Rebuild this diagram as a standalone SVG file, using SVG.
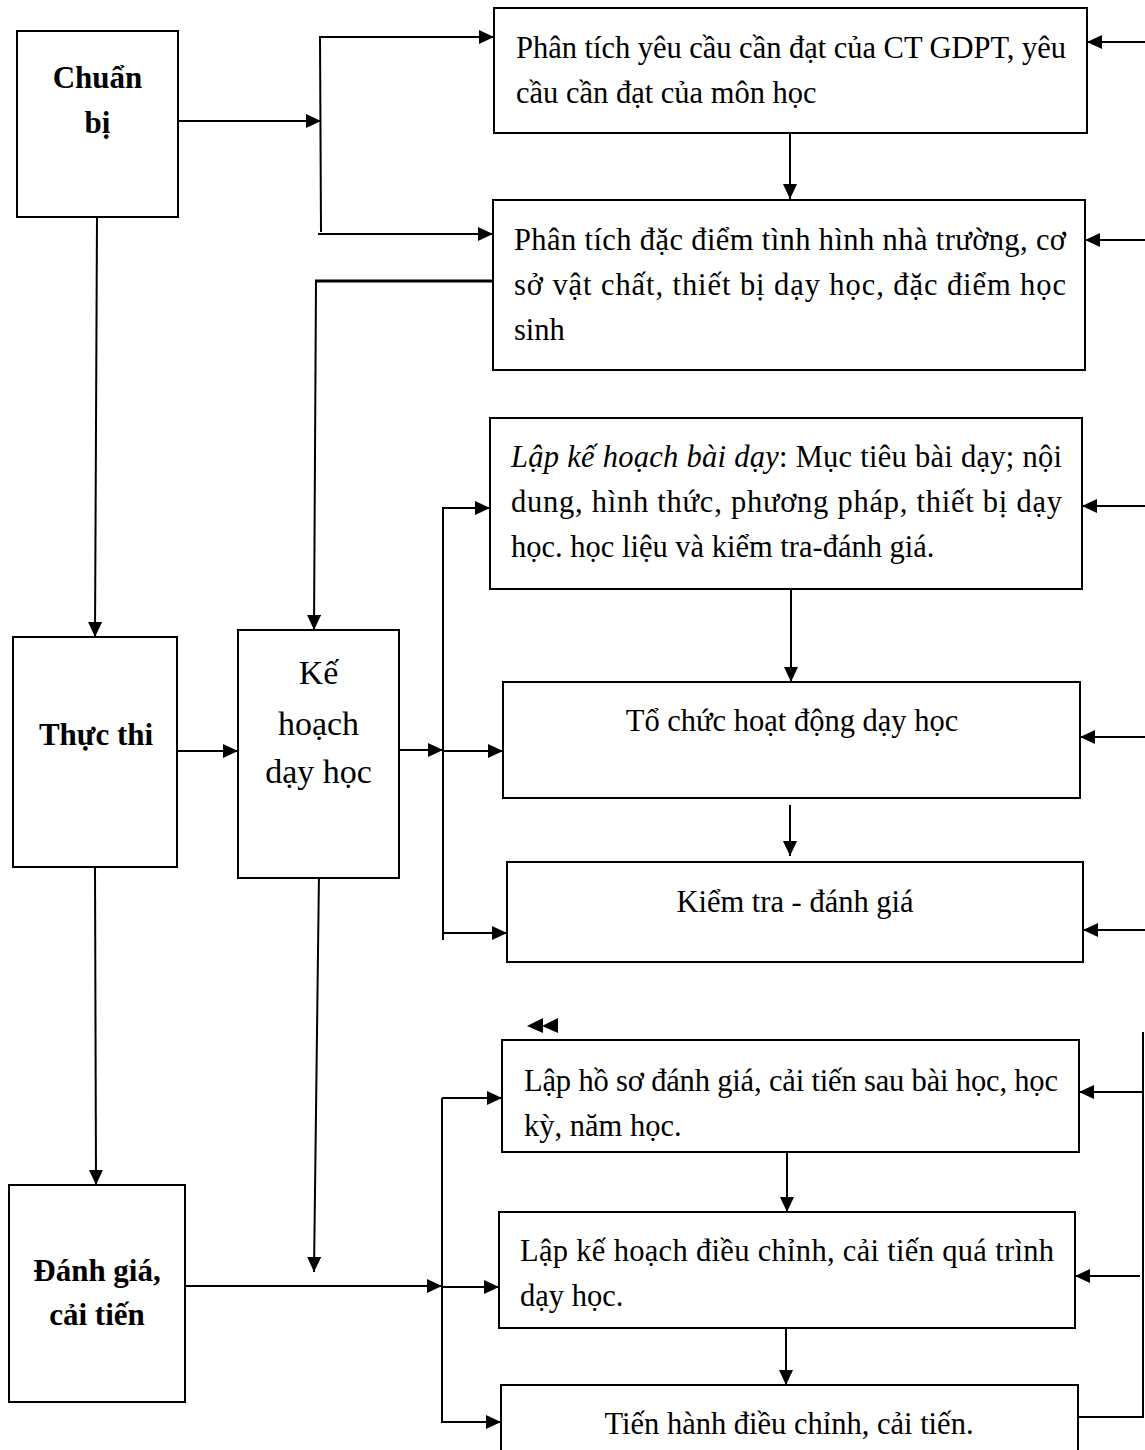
<svg xmlns="http://www.w3.org/2000/svg" width="1145" height="1450" viewBox="0 0 1145 1450">
<style>
.box{fill:#fff;stroke:#000;stroke-width:2}
.ln{fill:none;stroke:#000;stroke-width:2}
.t{font-family:"Liberation Serif","Times New Roman",serif;font-size:30.5px;fill:#000}
.b{font-family:"Liberation Serif","Times New Roman",serif;font-size:31px;font-weight:bold;fill:#000}
.k{font-family:"Liberation Serif","Times New Roman",serif;font-size:34px;fill:#000}
</style>
<defs>
<marker id="ah" markerUnits="userSpaceOnUse" markerWidth="16" markerHeight="14" refX="15" refY="7" orient="auto">
<path d="M0,0 L15,7 L0,14 Z" fill="#000"/>
</marker>
</defs>
<rect width="1145" height="1450" fill="#fff"/>

<g id="connectors">
<!-- Chuan bi to boxes 1,2 -->
<line class="ln" x1="178" y1="121" x2="321" y2="121" marker-end="url(#ah)"/>
<line class="ln" x1="320" y1="36" x2="321" y2="232"/>
<line class="ln" x1="320" y1="37" x2="494" y2="37" marker-end="url(#ah)"/>
<line class="ln" x1="318" y1="234" x2="493" y2="234" marker-end="url(#ah)"/>
<line class="ln" x1="790" y1="134" x2="790" y2="199" marker-end="url(#ah)"/>
<!-- box2 to Ke hoach -->
<line class="ln" x1="493" y1="281" x2="315" y2="281" style="stroke-width:3"/>
<line class="ln" x1="316" y1="280" x2="314" y2="630" marker-end="url(#ah)"/>
<!-- left column -->
<line class="ln" x1="97" y1="217" x2="95" y2="637" marker-end="url(#ah)"/>
<line class="ln" x1="95" y1="867" x2="96" y2="1185" marker-end="url(#ah)"/>
<line class="ln" x1="177" y1="751" x2="238" y2="751" marker-end="url(#ah)"/>
<!-- Ke hoach to boxes 3-5 -->
<line class="ln" x1="399" y1="750" x2="443" y2="750" marker-end="url(#ah)"/>
<line class="ln" x1="443" y1="507" x2="443" y2="940"/>
<line class="ln" x1="443" y1="508" x2="490" y2="508" marker-end="url(#ah)"/>
<line class="ln" x1="443" y1="751" x2="503" y2="751" marker-end="url(#ah)"/>
<line class="ln" x1="443" y1="933" x2="507" y2="933" marker-end="url(#ah)"/>
<line class="ln" x1="791" y1="590" x2="791" y2="682" marker-end="url(#ah)"/>
<line class="ln" x1="790" y1="805" x2="790" y2="856" marker-end="url(#ah)"/>
<!-- Ke hoach down -->
<line class="ln" x1="319" y1="873" x2="314" y2="1272" marker-end="url(#ah)"/>
<!-- Danh gia to boxes 6-8 -->
<line class="ln" x1="185" y1="1286" x2="442" y2="1286" marker-end="url(#ah)"/>
<line class="ln" x1="442" y1="1098" x2="442" y2="1423"/>
<line class="ln" x1="442" y1="1098" x2="502" y2="1098" marker-end="url(#ah)"/>
<line class="ln" x1="442" y1="1287" x2="499" y2="1287" marker-end="url(#ah)"/>
<line class="ln" x1="442" y1="1422" x2="501" y2="1422" marker-end="url(#ah)"/>
<line class="ln" x1="787" y1="1153" x2="787" y2="1212" marker-end="url(#ah)"/>
<line class="ln" x1="786" y1="1329" x2="786" y2="1385" marker-end="url(#ah)"/>
<!-- right side feedback arrows -->
<line class="ln" x1="1145" y1="42" x2="1087" y2="42" marker-end="url(#ah)"/>
<line class="ln" x1="1145" y1="240" x2="1085" y2="240" marker-end="url(#ah)"/>
<line class="ln" x1="1145" y1="506" x2="1082" y2="506" marker-end="url(#ah)"/>
<line class="ln" x1="1145" y1="737" x2="1080" y2="737" marker-end="url(#ah)"/>
<line class="ln" x1="1145" y1="930" x2="1083" y2="930" marker-end="url(#ah)"/>
<line class="ln" x1="1143" y1="1092" x2="1079" y2="1092" marker-end="url(#ah)"/>
<line class="ln" x1="1140" y1="1276" x2="1075" y2="1276" marker-end="url(#ah)"/>
<polyline class="ln" points="1143,1032 1143,1417 1078,1417"/>
<!-- stray double arrowheads -->
<polygon points="527,1026 543,1018 543,1033" fill="#000"/>
<polygon points="542,1026 558,1018 558,1033" fill="#000"/>
</g>

<g id="chuan-bi">
<rect class="box" x="17" y="31" width="161" height="186"/>
<text class="b" x="97.5" y="88" text-anchor="middle">Chuẩn</text>
<text class="b" x="97.5" y="133" text-anchor="middle">bị</text>
</g>
<g id="thuc-thi">
<rect class="box" x="13" y="637" width="164" height="230"/>
<text class="b" x="96" y="745" text-anchor="middle">Thực thi</text>
</g>
<g id="ke-hoach">
<rect class="box" x="238" y="630" width="161" height="248"/>
<text class="k" x="318.5" y="684" text-anchor="middle">Kế</text>
<text class="k" x="318.5" y="735" text-anchor="middle">hoạch</text>
<text class="k" x="318.5" y="783" text-anchor="middle">dạy học</text>
</g>
<g id="danh-gia">
<rect class="box" x="9" y="1185" width="176" height="217"/>
<text class="b" x="97" y="1281" text-anchor="middle">Đánh giá,</text>
<text class="b" x="97" y="1325" text-anchor="middle">cải tiến</text>
</g>

<g id="box1">
<rect class="box" x="494" y="8" width="593" height="125"/>
<text class="t" x="516" y="58" textLength="550" lengthAdjust="spacing">Phân tích yêu cầu cần đạt của CT GDPT, yêu</text>
<text class="t" x="516" y="103">cầu cần đạt của môn học</text>
</g>
<g id="box2">
<rect class="box" x="493" y="200" width="592" height="170"/>
<text class="t" x="514" y="250" textLength="552" lengthAdjust="spacing">Phân tích đặc điểm tình hình nhà trường, cơ</text>
<text class="t" x="514" y="295" textLength="552" lengthAdjust="spacing">sở vật chất, thiết bị dạy học, đặc điểm học</text>
<text class="t" x="514" y="340">sinh</text>
</g>
<g id="box3">
<rect class="box" x="490" y="418" width="592" height="171"/>
<text class="t" x="511" y="467" textLength="551" lengthAdjust="spacing"><tspan font-style="italic">Lập kế hoạch bài dạy</tspan>: Mục tiêu bài dạy; nội</text>
<text class="t" x="511" y="512" textLength="551" lengthAdjust="spacing">dung, hình thức, phương pháp, thiết bị dạy</text>
<text class="t" x="511" y="557">học. học liệu và kiểm tra-đánh giá.</text>
</g>
<g id="box4">
<rect class="box" x="503" y="682" width="577" height="116"/>
<text class="t" x="792" y="731" text-anchor="middle">Tổ chức hoạt động dạy học</text>
</g>
<g id="box5">
<rect class="box" x="507" y="862" width="576" height="100"/>
<text class="t" x="795" y="912" text-anchor="middle">Kiểm tra - đánh giá</text>
</g>
<g id="box6">
<rect class="box" x="502" y="1040" width="577" height="112"/>
<text class="t" x="524" y="1091" textLength="534" lengthAdjust="spacing">Lập hồ sơ đánh giá, cải tiến sau bài học, học</text>
<text class="t" x="524" y="1136">kỳ, năm học.</text>
</g>
<g id="box7">
<rect class="box" x="499" y="1212" width="576" height="116"/>
<text class="t" x="520" y="1261" textLength="534" lengthAdjust="spacing">Lập kế hoạch điều chỉnh, cải tiến quá trình</text>
<text class="t" x="520" y="1306">dạy học.</text>
</g>
<g id="box8">
<rect class="box" x="501" y="1385" width="577" height="90"/>
<text class="t" x="789" y="1434" text-anchor="middle">Tiến hành điều chỉnh, cải tiến.</text>
</g>
</svg>
